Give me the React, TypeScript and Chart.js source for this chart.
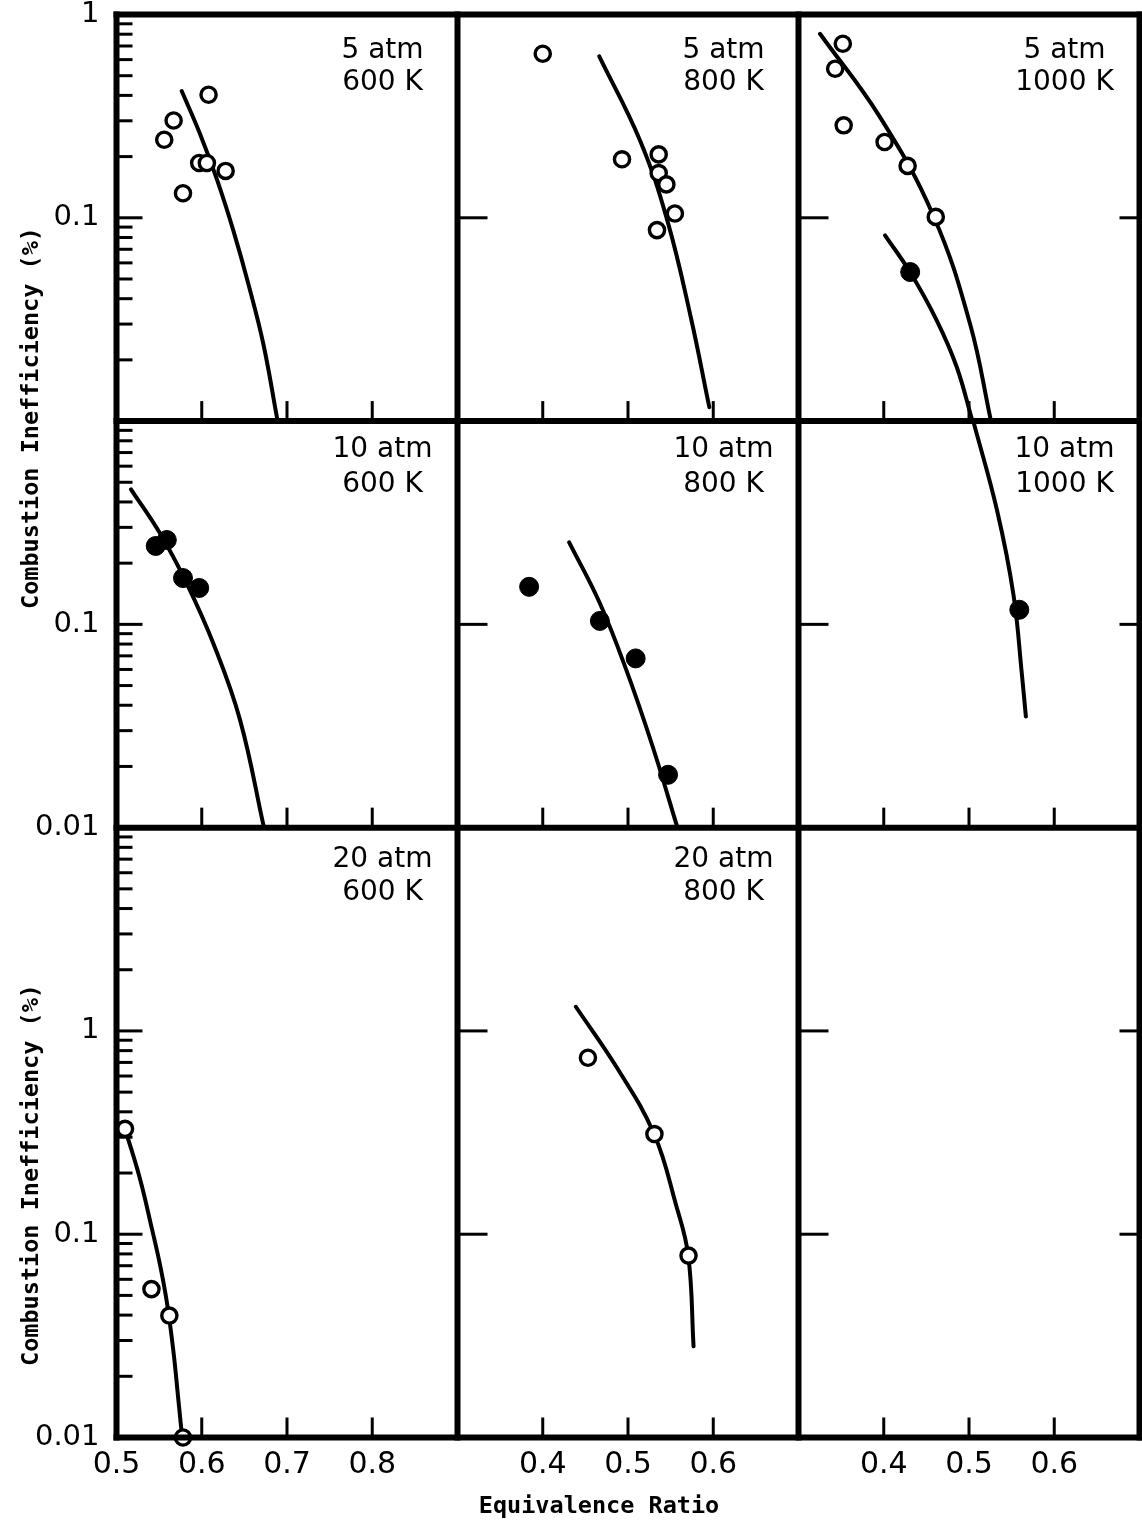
import { useEffect, useRef } from 'react';
import { Chart, registerables } from 'chart.js';

Chart.register(...registerables);

const W = 1142;
const H = 1522;

// ---- axis ticks -------------------------------------------------------------
// Equivalence-ratio tick labels per column of panels
const COL1_TICKS = [0.5, 0.6, 0.7, 0.8];
const COL2_TICKS = [0.4, 0.5, 0.6];
const COL3_TICKS = [0.4, 0.5, 0.6];
// Labelled decades on the inefficiency axis per row of panels
const ROW1_TICKS = [1, 0.1];
const ROW2_TICKS = [0.1, 0.01];
const ROW3_TICKS = [1, 0.1, 0.01];

// Panel captions: pressure by row, inlet temperature by column
const PRESSURES = ['5 atm', '10 atm', '20 atm'];
const TEMPERATURES = ['600 K', '800 K', '1000 K'];

// ---- measurements (equivalence ratio, inefficiency %) -------------------------
// 5 atm, 600 K (open symbols)
const P5_T600_PHI = [0.608, 0.567, 0.556, 0.597, 0.606, 0.628, 0.578];
const P5_T600_CI = [0.403, 0.301, 0.242, 0.186, 0.186, 0.17, 0.132];
const P5_T600_FIT_PHI = [0.5765, 0.5979, 0.6182, 0.637, 0.6546, 0.6722, 0.689];
const P5_T600_FIT_CI = [0.42, 0.259, 0.1527, 0.0867, 0.0474, 0.024, 0.01];

// 5 atm, 800 K (open symbols)
const P5_T800_PHI = [0.4, 0.493, 0.536, 0.536, 0.545, 0.555, 0.534];
const P5_T800_CI = [0.641, 0.194, 0.205, 0.166, 0.146, 0.105, 0.087];
const P5_T800_FIT_PHI = [0.4663, 0.5141, 0.5461, 0.5736, 0.5954];
const P5_T800_FIT_CI = [0.622, 0.24, 0.0971, 0.0325, 0.0117];

// 5 atm, 1000 K (open symbols) and the single solid-symbol run
const P5_T1000_PHI = [0.352, 0.343, 0.353, 0.401, 0.428, 0.461];
const P5_T1000_CI = [0.718, 0.541, 0.285, 0.236, 0.18, 0.101];
const P5_T1000_FIT_PHI = [0.3252, 0.3956, 0.4581, 0.5012, 0.5258];
const P5_T1000_FIT_CI = [0.804, 0.3127, 0.1027, 0.0301, 0.01];
const P5_T1000_SOLID_PHI = [0.431];
const P5_T1000_SOLID_CI = [0.0541];
const P5_T1000_SOLID_FIT_PHI = [0.4015, 0.4308, 0.4621, 0.4856, 0.504];
const P5_T1000_SOLID_FIT_CI = [0.0819, 0.0541, 0.0313, 0.01845, 0.01];

// 10 atm, 600 K (solid symbols)
const P10_T600_PHI = [0.546, 0.559, 0.578, 0.597];
const P10_T600_CI = [0.243, 0.26, 0.169, 0.151];
const P10_T600_FIT_PHI = [0.517, 0.551, 0.5823, 0.6135, 0.6449, 0.673];
const P10_T600_FIT_CI = [0.4615, 0.2805, 0.1592, 0.0807, 0.0339, 0.01];

// 10 atm, 800 K (solid symbols)
const P10_T800_PHI = [0.384, 0.467, 0.509, 0.547];
const P10_T800_CI = [0.153, 0.104, 0.068, 0.0182];
const P10_T800_FIT_PHI = [0.431, 0.467, 0.498, 0.529, 0.558];
const P10_T800_FIT_CI = [0.253, 0.127, 0.0597, 0.025, 0.01];

// 10 atm, 1000 K (solid symbols)
const P10_T1000_PHI = [0.559];
const P10_T1000_CI = [0.118];
const P10_T1000_FIT_PHI = [0.505, 0.5328, 0.5522, 0.5621, 0.5667];
const P10_T1000_FIT_CI = [1.0, 0.365, 0.1395, 0.0564, 0.0352];

// 20 atm, 600 K (open symbols)
const P20_T600_PHI = [0.51, 0.541, 0.562, 0.578];
const P20_T600_CI = [0.33, 0.0537, 0.0398, 0.01];
const P20_T600_FIT_PHI = [0.51, 0.5276, 0.5413, 0.551, 0.5589, 0.5666, 0.5725, 0.577];
const P20_T600_FIT_CI = [0.33, 0.187, 0.1074, 0.0709, 0.0468, 0.0269, 0.01543, 0.01];

// 20 atm, 800 K (open symbols)
const P20_T800_PHI = [0.453, 0.531, 0.571];
const P20_T800_CI = [0.738, 0.311, 0.0785];
const P20_T800_FIT_PHI = [0.4388, 0.4871, 0.5305, 0.5563, 0.5707, 0.5769];
const P20_T800_FIT_CI = [1.315, 0.6586, 0.312, 0.1396, 0.0784, 0.0281];

// ---- dataset builders -------------------------------------------------------
const pairs = (xs: number[], ys: number[]) => xs.map((x, i) => ({ x, y: ys[i] }));

function symbols(xs: number[], ys: number[], solid: boolean, xId: string, yId: string) {
  return {
    type: 'scatter',
    data: pairs(xs, ys),
    xAxisID: xId,
    yAxisID: yId,
    showLine: false,
    pointRadius: solid ? 9.5 : 7.6,
    pointHoverRadius: solid ? 9.5 : 7.6,
    pointBorderWidth: solid ? 1 : 3.4,
    pointBackgroundColor: solid ? '#000' : '#fff',
    pointBorderColor: '#000',
    clip: false,
  };
}

function fitLine(xs: number[], ys: number[], xId: string, yId: string) {
  return {
    type: 'scatter',
    data: pairs(xs, ys),
    xAxisID: xId,
    yAxisID: yId,
    showLine: true,
    fill: false,
    pointRadius: 0,
    pointHoverRadius: 0,
    borderColor: '#000',
    borderWidth: 4,
    borderCapStyle: 'round',
    tension: 0.4,
  };
}

// symbols first so they are painted over the fitted curves
const datasets = [
  symbols(P5_T600_PHI, P5_T600_CI, false, 'x1', 'y1'),
  symbols(P5_T800_PHI, P5_T800_CI, false, 'x2', 'y1'),
  symbols(P5_T1000_PHI, P5_T1000_CI, false, 'x3', 'y1'),
  symbols(P5_T1000_SOLID_PHI, P5_T1000_SOLID_CI, true, 'x3', 'y1'),
  symbols(P10_T600_PHI, P10_T600_CI, true, 'x1', 'y2'),
  symbols(P10_T800_PHI, P10_T800_CI, true, 'x2', 'y2'),
  symbols(P10_T1000_PHI, P10_T1000_CI, true, 'x3', 'y2'),
  symbols(P20_T600_PHI, P20_T600_CI, false, 'x1', 'y3'),
  symbols(P20_T800_PHI, P20_T800_CI, false, 'x2', 'y3'),
  fitLine(P5_T600_FIT_PHI, P5_T600_FIT_CI, 'x1', 'y1'),
  fitLine(P5_T800_FIT_PHI, P5_T800_FIT_CI, 'x2', 'y1'),
  fitLine(P5_T1000_FIT_PHI, P5_T1000_FIT_CI, 'x3', 'y1'),
  fitLine(P5_T1000_SOLID_FIT_PHI, P5_T1000_SOLID_FIT_CI, 'x3', 'y1'),
  fitLine(P10_T600_FIT_PHI, P10_T600_FIT_CI, 'x1', 'y2'),
  fitLine(P10_T800_FIT_PHI, P10_T800_FIT_CI, 'x2', 'y2'),
  fitLine(P10_T1000_FIT_PHI, P10_T1000_FIT_CI, 'x3', 'y2'),
  fitLine(P20_T600_FIT_PHI, P20_T600_FIT_CI, 'x1', 'y3'),
  fitLine(P20_T800_FIT_PHI, P20_T800_FIT_CI, 'x2', 'y3'),
];

// ---- scales -----------------------------------------------------------------
const TICK_FONT = 'DejaVu Sans';
const Y_AXIS_WIDTH = 116.5;
const X_AXIS_HEIGHT = 84.5;

function xScale(min: number, max: number, ticks: number[], weight: number) {
  return {
    type: 'linear',
    axis: 'x',
    position: 'bottom',
    stack: 'cols',
    stackWeight: 1,
    weight,
    min,
    max,
    grid: { display: false, drawTicks: false },
    border: { display: false },
    ticks: {
      autoSkip: false,
      maxRotation: 0,
      minRotation: 0,
      padding: 10,
      color: '#000',
      font: { family: TICK_FONT, size: 30 },
      callback: (v: number) => String(v),
    },
    afterBuildTicks: (s: any) => {
      s.ticks = ticks.map((value) => ({ value }));
    },
    afterFit: (s: any) => {
      s.height = X_AXIS_HEIGHT;
      s.paddingLeft = 0;
      s.paddingRight = 0;
    },
  };
}

function yScale(min: number, max: number, ticks: number[], weight: number, stackWeight: number) {
  return {
    type: 'logarithmic',
    axis: 'y',
    position: 'left',
    stack: 'rows',
    stackWeight,
    weight,
    min,
    max,
    grid: { display: false, drawTicks: false },
    border: { display: false },
    ticks: {
      autoSkip: false,
      padding: 17,
      color: '#000',
      font: { family: TICK_FONT, size: 29 },
      callback: (v: number) => String(v),
    },
    afterBuildTicks: (s: any) => {
      s.ticks = ticks.map((value) => ({ value }));
    },
    afterFit: (s: any) => {
      s.width = Y_AXIS_WIDTH;
      s.paddingTop = 0;
      s.paddingBottom = 0;
    },
  };
}

// ---- frame, inward ticks, captions and axis titles ---------------------------
const CAPTION_BASELINES = [
  [43.5, 75.5],
  [36, 71],
  [39, 72],
];

function minorValues(min: number, max: number) {
  const out: number[] = [];
  for (let e = Math.floor(Math.log10(min)); Math.pow(10, e) < max; e++) {
    const d = Math.pow(10, e);
    for (let m = 1; m <= 9; m++) {
      const v = m * d;
      if (v > min * 1.0001 && v < max * 0.9999) out.push(v);
    }
  }
  return out;
}

const panelFrame = {
  id: 'panelFrame',
  afterDatasetsDraw(chart: any) {
    const ctx: CanvasRenderingContext2D = chart.ctx;
    const xs = [chart.scales.x1, chart.scales.x2, chart.scales.x3];
    const ys = [chart.scales.y1, chart.scales.y2, chart.scales.y3];
    const colTicks = [COL1_TICKS, COL2_TICKS, COL3_TICKS];
    const left = xs[0].left;
    const right = xs[2].right;
    const top = ys[0].top;
    const bottom = ys[2].bottom;

    const seg = (x0: number, y0: number, x1: number, y1: number) => {
      ctx.beginPath();
      ctx.moveTo(x0, y0);
      ctx.lineTo(x1, y1);
      ctx.stroke();
    };

    ctx.save();
    ctx.strokeStyle = '#000';
    ctx.fillStyle = '#000';
    ctx.lineCap = 'butt';
    ctx.lineWidth = 3;

    ys.forEach((ysc) => {
      minorValues(ysc.min, ysc.max).forEach((v) => {
        const py = ysc.getPixelForValue(v);
        const decade = Math.abs(Math.log10(v) - Math.round(Math.log10(v))) < 1e-6;
        // outer left edge: full log ladder
        seg(left, py, left + (decade ? 26 : 16), py);
        if (decade) {
          // inner column edges and outer right edge: decades only
          seg(xs[1].left, py, xs[1].left + 30, py);
          seg(xs[2].left, py, xs[2].left + 30, py);
          seg(right, py, right - 20, py);
        }
      });
      // equivalence-ratio ticks along each panel's lower edge
      xs.forEach((xsc, c) => {
        colTicks[c].forEach((v) => {
          const px = xsc.getPixelForValue(v);
          if (px - xsc.left < 2) return;
          seg(px, ysc.bottom, px, ysc.bottom - 20);
        });
      });
    });

    // panel frame
    ctx.lineWidth = 6;
    ctx.lineCap = 'square';
    xs.forEach((s) => seg(s.left, top, s.left, bottom));
    seg(right, top, right, bottom);
    ys.forEach((s) => seg(left, s.top, right, s.top));
    seg(left, bottom, right, bottom);

    // panel captions
    ctx.font = '28px "DejaVu Sans"';
    ctx.textAlign = 'center';
    ctx.textBaseline = 'alphabetic';
    PRESSURES.forEach((p, r) => {
      TEMPERATURES.forEach((t, c) => {
        if (r === 2 && c === 2) return;
        const cx = xs[c].left + 266;
        ctx.fillText(p, cx, ys[r].top + CAPTION_BASELINES[r][0]);
        ctx.fillText(t, cx, ys[r].top + CAPTION_BASELINES[r][1]);
      });
    });

    // axis titles
    ctx.font = 'bold 23.5px "DejaVu Sans Mono"';
    ctx.textAlign = 'center';
    ctx.fillText('Equivalence Ratio', 599, 1513);
    const yTitle = 'Combustion Inefficiency (%)';
    [418, 1175].forEach((cy) => {
      ctx.save();
      ctx.translate(38, cy);
      ctx.rotate(-Math.PI / 2);
      ctx.fillText(yTitle, 0, 0);
      ctx.restore();
    });

    ctx.restore();
  },
};

export default function App() {
  const canvasRef = useRef<HTMLCanvasElement | null>(null);

  useEffect(() => {
    const canvas = canvasRef.current;
    if (!canvas) return;
    const chart = new Chart(canvas, {
      type: 'scatter',
      data: { datasets: datasets as any },
      options: {
        animation: false,
        responsive: false,
        devicePixelRatio: 1,
        events: [],
        layout: { autoPadding: false, padding: { top: 14.5, right: 2.5, left: 0, bottom: 0 } },
        plugins: {
          legend: { display: false },
          tooltip: { enabled: false },
          title: { display: false },
        },
        scales: {
          x1: xScale(0.5, 0.9, COL1_TICKS, 1),
          x2: xScale(0.3, 0.7, COL2_TICKS, 2),
          x3: xScale(0.3, 0.7, COL3_TICKS, 3),
          y1: yScale(0.01, 1, ROW1_TICKS, 3, 2),
          y2: yScale(0.01, 1, ROW2_TICKS, 2, 2),
          y3: yScale(0.01, 10, ROW3_TICKS, 1, 3),
        } as any,
      },
      plugins: [panelFrame],
    } as any);
    return () => chart.destroy();
  }, []);

  return (
    <div style={{ position: 'absolute', left: 0, top: 0, width: W, height: H, background: '#fff' }}>
      <canvas ref={canvasRef} width={W} height={H} style={{ display: 'block', width: W, height: H }} />
    </div>
  );
}
